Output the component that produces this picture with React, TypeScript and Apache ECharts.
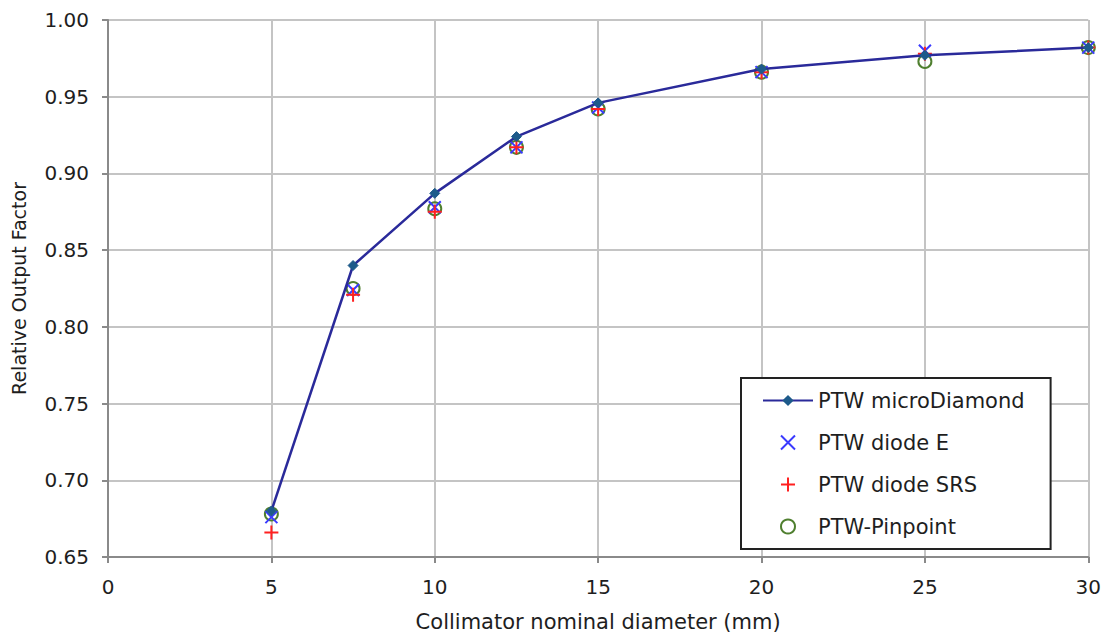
import React, { useEffect, useRef } from "react";
import * as echarts from "echarts";

const diameters = [5, 7.5, 10, 12.5, 15, 20, 25, 30];
const microDiamond = [0.68, 0.84, 0.887, 0.924, 0.946, 0.968, 0.977, 0.982];
const diodeE = [0.676, 0.824, 0.878, 0.917, 0.943, 0.966, 0.98, 0.982];
const diodeSRS = [0.666, 0.821, 0.875, 0.917, 0.942, 0.966, 0.978, 0.982];
const pinpoint = [0.678, 0.825, 0.877, 0.917, 0.942, 0.966, 0.973, 0.982];

const pairs = (ys: number[]) => diameters.map((x, i) => [x, ys[i]]);

const FONT = "DejaVu Sans, Liberation Sans, sans-serif";
const TXT = "#1e1e1e";

export default function App() {
  const ref = useRef<HTMLDivElement>(null);
  useEffect(() => {
    if (!ref.current) return;
    const chart = echarts.init(ref.current, undefined, { renderer: "svg" });
    chart.setOption({
      animation: false,
      backgroundColor: "#ffffff",
      textStyle: { fontFamily: FONT },
      grid: { left: 108, right: 15, top: 20, bottom: 79 },
      xAxis: {
        type: "value",
        min: 0,
        max: 30,
        interval: 5,
        name: "Collimator nominal diameter (mm)",
        nameLocation: "middle",
        nameGap: 54,
        nameTextStyle: { fontSize: 21, color: TXT, fontFamily: FONT },
        axisLine: { show: true, lineStyle: { color: "#8a8a8a", width: 2 } },
        axisTick: { show: true, length: 6, lineStyle: { color: "#8a8a8a", width: 2 } },
        axisLabel: { fontSize: 20, color: TXT, margin: 20, fontFamily: FONT },
        splitLine: { show: true, lineStyle: { color: "#c4c4c4", width: 2 } },
      },
      yAxis: {
        type: "value",
        min: 0.65,
        max: 1.0,
        interval: 0.05,
        name: "Relative Output Factor",
        nameLocation: "middle",
        nameGap: 80,
        nameRotate: 90,
        nameTextStyle: { fontSize: 19, color: TXT, fontFamily: FONT },
        axisLine: { show: true, lineStyle: { color: "#8a8a8a", width: 2 } },
        axisTick: { show: true, length: 6, lineStyle: { color: "#8a8a8a", width: 2 } },
        axisLabel: {
          fontSize: 20,
          color: TXT,
          margin: 19,
          fontFamily: FONT,
          formatter: (v: number) => v.toFixed(2),
        },
        splitLine: { show: true, lineStyle: { color: "#c4c4c4", width: 2 } },
      },
      legend: {
        orient: "vertical",
        left: 741,
        top: 378,
        padding: [12, 26, 12, 21],
        itemGap: 21,
        itemWidth: 50,
        itemHeight: 14,
        borderColor: "#222",
        borderWidth: 2,
        backgroundColor: "#ffffff",
        textStyle: { fontSize: 21, color: TXT, fontFamily: FONT },
        data: ["PTW microDiamond", "PTW diode E", "PTW diode SRS", "PTW-Pinpoint"],
      },
      series: [
        {
          name: "PTW-Pinpoint",
          type: "scatter",
          symbol: "circle",
          symbolSize: 13,
          itemStyle: { color: "rgba(255,255,255,0)", borderColor: "#4f7f2f", borderWidth: 2, opacity: 1 },
          data: pairs(pinpoint),
          z: 2,
        },
        {
          name: "PTW diode E",
          type: "scatter",
          symbol: "path://M0,0L10,10M10,0L0,10",
          symbolSize: 12,
          itemStyle: { color: "rgba(255,255,255,0)", borderColor: "#3a3aff", borderWidth: 2, opacity: 1 },
          data: pairs(diodeE),
          z: 3,
        },
        {
          name: "PTW diode SRS",
          type: "scatter",
          symbol: "path://M5,0L5,10M0,5L10,5",
          symbolSize: 14,
          itemStyle: { color: "rgba(255,255,255,0)", borderColor: "#ff2020", borderWidth: 2, opacity: 1 },
          data: pairs(diodeSRS),
          z: 4,
        },
        {
          name: "PTW microDiamond",
          type: "line",
          symbol: "diamond",
          symbolSize: 10,
          showSymbol: true,
          lineStyle: { color: "#2a2a9a", width: 2.5 },
          itemStyle: { color: "#1d5a8a", borderColor: "#1d5a8a" },
          data: pairs(microDiamond),
          z: 5,
        },
      ],
    });
    return () => chart.dispose();
  }, []);
  return <div ref={ref} style={{ width: 1104, height: 637, position: "absolute", left: 0, top: 0 }} />;
}
